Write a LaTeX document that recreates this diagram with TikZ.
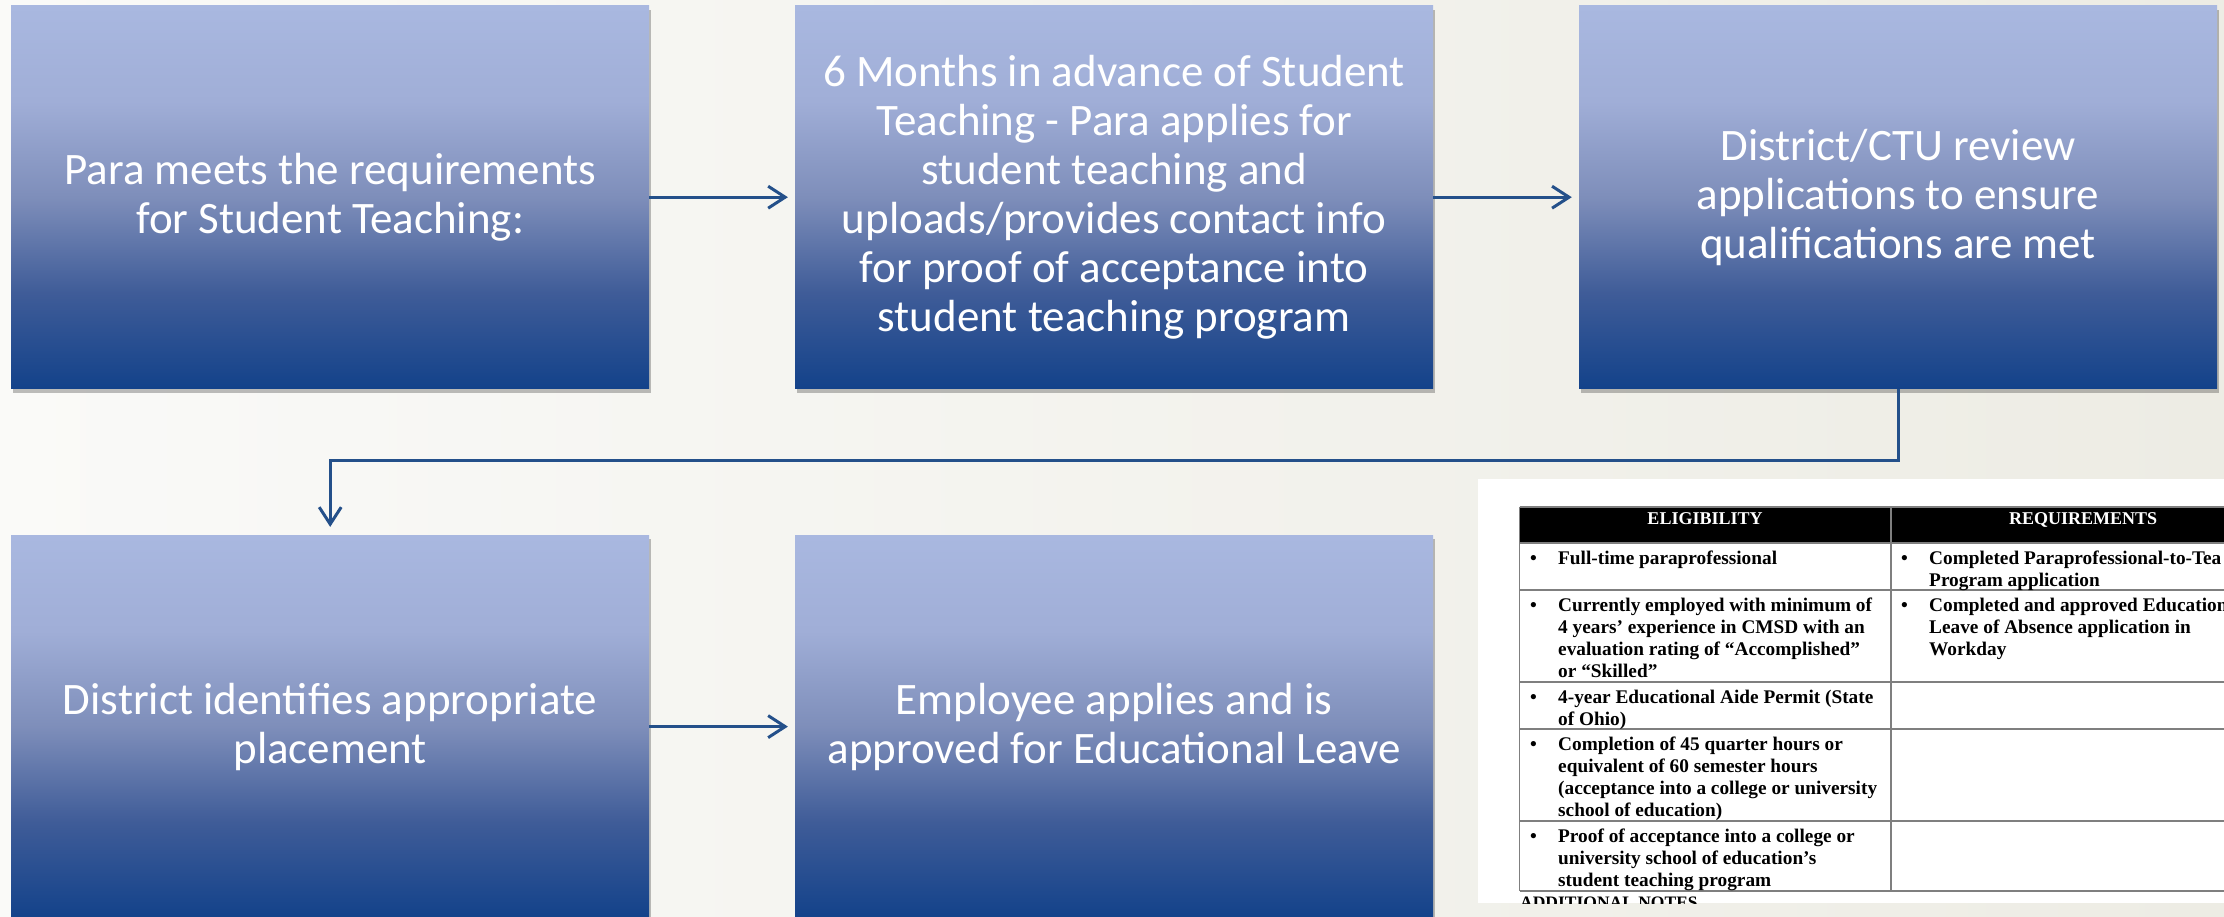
\documentclass[tikz,border=0pt]{standalone}
\usepackage{fontspec}
\setmainfont{Carlito}
\newfontfamily\tablefont{Liberation Serif}
\usetikzlibrary{positioning,arrows.meta,shadows}

\definecolor{boxtop}{HTML}{A9B8E0}
\definecolor{boxupper}{HTML}{A0AED7}
\definecolor{boxmid}{HTML}{7E8EBA}
\definecolor{boxlow}{HTML}{3F5C98}
\definecolor{boxbottom}{HTML}{13428A}
\definecolor{flowline}{HTML}{24508A}
\definecolor{gridgray}{HTML}{7F7F7F}
\definecolor{bgleft}{HTML}{FAFAF8}
\definecolor{bgright}{HTML}{EDECE4}

\pgfdeclareverticalshading{boxshade}{100bp}{color(0bp)=(boxbottom); color(25bp)=(boxbottom); color(37.5bp)=(boxlow); color(50bp)=(boxmid); color(62.5bp)=(boxupper); color(75bp)=(boxtop); color(100bp)=(boxtop)}

\newcommand{\tabfont}{\tablefont\bfseries\fontsize{19.3}{22.2}\selectfont}
\newcommand{\bulletcell}[1]{\begin{tabular}[t]{@{}p{28pt}@{}l@{}}•&#1\end{tabular}}

\begin{document}
\begin{tikzpicture}[x=1pt, y=-1pt,
  stepbox/.style={rectangle, minimum width=638pt, minimum height=383pt, inner sep=0pt, shade, shading=boxshade, text=white, align=center, font=\fontsize{45}{49}\selectfont, drop shadow={shadow xshift=2pt, shadow yshift=-4pt, opacity=0.25, fill=black}},
  flow/.style={draw=flowline, line width=3pt, -{Straight Barb[length=17pt, width=22pt]}, shorten >=7pt},
  gridline/.style={draw=gridgray, line width=1.3pt},
  cell/.style={anchor=base west, inner sep=0pt, font=\tabfont},
  head/.style={anchor=base, inner sep=0pt, text=white, font=\tablefont\bfseries\fontsize{18}{20}\selectfont}]
  \useasboundingbox (0,0) rectangle (2224,917);
  \shade[left color=bgleft, right color=bgright] (0,0) rectangle (2224,917);

  \node (Requirements) [stepbox, anchor=north west] at (11,5.5) {Para meets the requirements\\for Student Teaching:};
  \node (Apply) [stepbox, right=145.5pt of Requirements] {6 Months in advance of Student\\Teaching - Para applies for\\student teaching and\\uploads/provides contact info\\for proof of acceptance into\\student teaching program};
  \node (Review) [stepbox, right=145.5pt of Apply] {District/CTU review\\applications to ensure\\qualifications are met};
  \node (Placement) [stepbox, below=146pt of Requirements] {District identifies appropriate\\placement};
  \node (Leave) [stepbox, right=145.5pt of Placement] {Employee applies and is\\approved for Educational Leave};

  \draw[flow] (Requirements) -- (Apply);
  \draw[flow] (Apply) -- (Review);
  \draw[flow, shorten >=8pt] (Review.south) -- ++(0,72) -| (Placement.north);
  \draw[flow] (Placement) -- (Leave);

  \begin{scope}
    \clip (1478,479) rectangle (2224,903);
    \fill[white] (1478,479) rectangle (2224,903);
    \fill[black] (1519.5,507) rectangle (2280,543);
    \foreach \y in {507,543,590,682,729,821,891}
      \draw[gridline] (1519.5,\y) -- (2280,\y);
    \draw[gridline] (1519.5,507) -- (1519.5,891);
    \draw[gridline] (1891,507) -- (1891,891);
    \node (EligHead) [head] at (1705,524) {ELIGIBILITY};
    \node (ReqHead) [head] at (2083,524) {REQUIREMENTS};
    \node (EligA) [cell] at (1530,564) {\bulletcell{Full-time paraprofessional}};
    \node (EligB) [cell] at (1530,611) {\bulletcell{Currently employed with minimum of\\&4 years’ experience in CMSD with an\\&evaluation rating of “Accomplished”\\&or “Skilled”}};
    \node (EligC) [cell] at (1530,703) {\bulletcell{4-year Educational Aide Permit (State\\&of Ohio)}};
    \node (EligD) [cell] at (1530,750) {\bulletcell{Completion of 45 quarter hours or\\&equivalent of 60 semester hours\\&(acceptance into a college or university\\&school of education)}};
    \node (EligE) [cell] at (1530,842) {\bulletcell{Proof of acceptance into a college or\\&university school of education’s\\&student teaching program}};
    \node (ReqA) [cell] at (1901,564) {\bulletcell{Completed Paraprofessional-to-Tea\\&Program application}};
    \node (ReqB) [cell] at (1901,611) {\bulletcell{Completed and approved Education\\&Leave of Absence application in\\&Workday}};
    \node (Notes) [anchor=base west, inner sep=0pt, font=\tablefont\bfseries\fontsize{17.5}{20}\selectfont] at (1520,908) {ADDITIONAL NOTES};
  \end{scope}
\end{tikzpicture}
\end{document}
